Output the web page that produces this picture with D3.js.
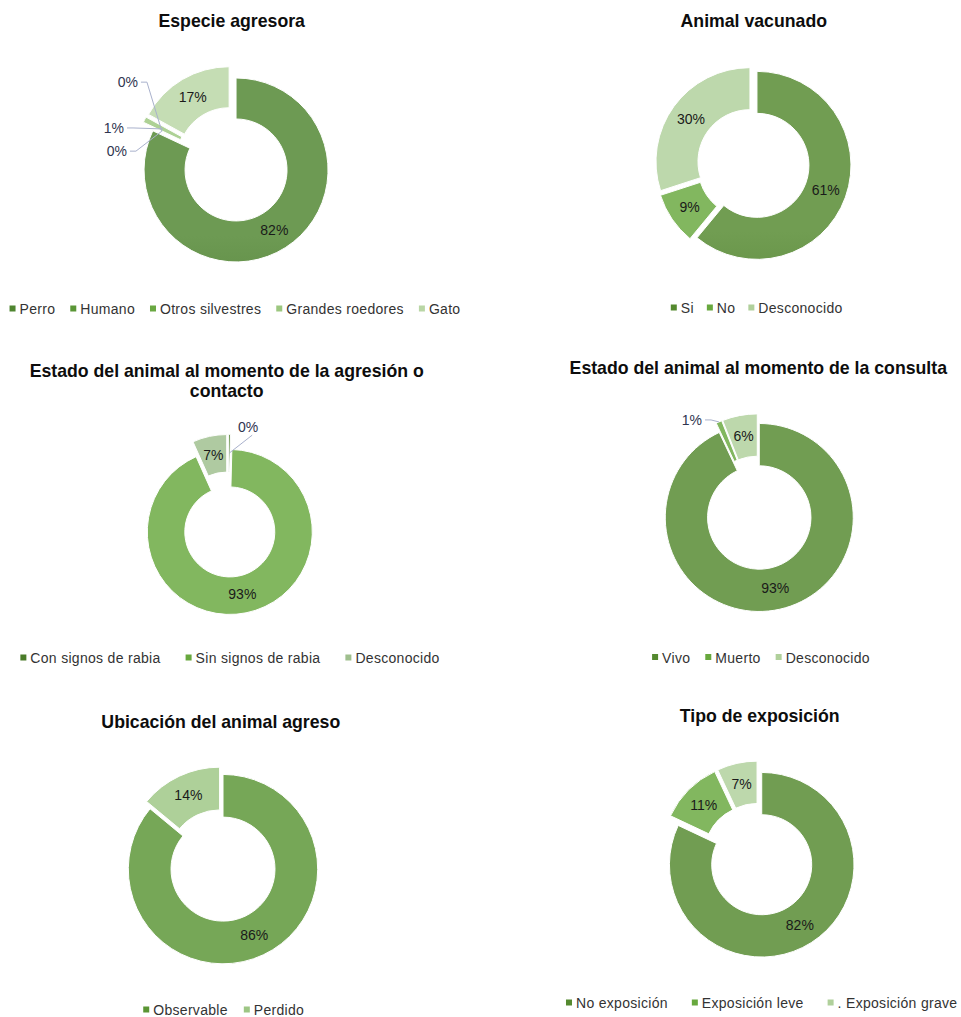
<!DOCTYPE html>
<html><head><meta charset="utf-8">
<script src="https://cdn.jsdelivr.net/npm/d3@7"></script>
<style>
body{margin:0;background:#fff}
svg{display:block;font-family:"Liberation Sans",Arial,sans-serif}
</style>
</head><body>
<svg id="c" width="961" height="1017"></svg>
<script>
// ---------------- DATA ----------------
const especieTitle = ["Especie agresora"];
const especieCats = ["Perro", "Humano", "Otros silvestres", "Grandes roedores", "Gato"];
const especieVals = [82, 0, 0, 1, 17];

const vacunadoTitle = ["Animal vacunado"];
const vacunadoCats = ["Si", "No", "Desconocido"];
const vacunadoVals = [61, 9, 30];

const agresionTitle = ["Estado del animal al momento de la agresión o", "contacto"];
const agresionCats = ["Con signos de rabia", "Sin signos de rabia", "Desconocido"];
const agresionVals = [0.4, 92.9, 6.7];

const consultaTitle = ["Estado del animal al momento de la consulta"];
const consultaCats = ["Vivo", "Muerto", "Desconocido"];
const consultaVals = [93, 1, 6];

const ubicacionTitle = ["Ubicación del animal agreso"];
const ubicacionCats = ["Observable", "Perdido"];
const ubicacionVals = [86, 14];

const exposicionTitle = ["Tipo de exposición"];
const exposicionCats = ["No exposición", "Exposición leve", ". Exposición grave"];
const exposicionVals = [82, 11, 7];

// ---------------- LAYOUT / STYLE ----------------
const charts = [
  {title: especieTitle, cats: especieCats, vals: especieVals,
   colors: ["#4f8530", "#5a9636", "#6aa842", "#9cc77f", "#b9d6a5"],
   cx: 232.5, cy: 164.4, R: 92, r: 51, e: 6.6,
   tx: 231.7, ty: [27], lx: 235, ly: 314, gap: 15,
   outside: {1: {nudge: [-45, 20], anchor: "mid"}, 2: {nudge: [-34, -49], anchor: "mid"}, 3: {nudge: [-49, -1], anchor: "mid"}}},
  {title: vacunadoTitle, cats: vacunadoCats, vals: vacunadoVals,
   colors: ["#54892f", "#68a83e", "#b0d09b"],
   cx: 753.2, cy: 164, R: 94, r: 52, e: 4,
   tx: 753.8, ty: [26.7], lx: 756.7, ly: 313, gap: 13, outside: {}},
  {title: agresionTitle, cats: agresionCats, vals: agresionVals,
   colors: ["#4a7b29", "#68a83e", "#9fbf8e"],
   cx: 228.3, cy: 524.5, R: 82.5, r: 45, e: 7.6,
   tx: 226.7, ty: [376.7, 396.7], lx: 230, ly: 663, gap: 25,
   outside: {0: {nudge: [19, -26], anchor: "mid"}}},
  {title: consultaTitle, cats: consultaCats, vals: consultaVals,
   colors: ["#54892f", "#68a83e", "#b0d09b"],
   cx: 758.2, cy: 512.7, R: 94, r: 51.7, e: 4.9,
   tx: 758.3, ty: [374.3], lx: 761, ly: 662.5, gap: 15,
   outside: {1: {nudge: [-27, -2], anchor: "outer"}}},
  {title: ubicacionTitle, cats: ubicacionCats, vals: ubicacionVals,
   colors: ["#5a9534", "#9dc684"],
   cx: 221.3, cy: 865.5, R: 94.7, r: 52, e: 4,
   tx: 220.8, ty: [728.3], lx: 223.7, ly: 1015, gap: 16, outside: {}},
  {title: exposicionTitle, cats: exposicionCats, vals: exposicionVals,
   colors: ["#54892f", "#68a83e", "#b0d09b"],
   cx: 758.4, cy: 859.5, R: 92.3, r: 50, e: 6.2,
   tx: 759.7, ty: [721.7], lx: 761.7, ly: 1008, gap: 24, outside: {}}
];

const svg = d3.select("#c");
svg.append("rect").attr("width", 961).attr("height", 1017).attr("fill", "#fff");
const defs = svg.append("defs");

charts.forEach((c, ci) => {
  const g = svg.append("g");
  const total = d3.sum(c.vals);
  const pie = d3.pie().sort(null).value(d => d).startAngle(0).endAngle(2 * Math.PI);
  const arcs = pie(c.vals);
  const arc = d3.arc().innerRadius(c.r).outerRadius(c.R);

  // gradients (lighter at top, darker at bottom)
  c.colors.forEach((col, i) => {
    const lg = defs.append("linearGradient").attr("id", `g${ci}_${i}`)
      .attr("gradientUnits", "userSpaceOnUse")
      .attr("x1", c.cx).attr("x2", c.cx)
      .attr("y1", c.cy - c.R - c.e).attr("y2", c.cy + c.R + c.e);
    lg.append("stop").attr("offset", "0%").attr("stop-color", d3.interpolateRgb(col, "#ffffff")(0.17));
    lg.append("stop").attr("offset", "100%").attr("stop-color", d3.interpolateRgb(col, "#000000")(0.14));
  });

  const mid = a => (a.startAngle + a.endAngle) / 2;
  const off = a => [Math.sin(mid(a)) * c.e, -Math.cos(mid(a)) * c.e];
  const polar = (ang, rad) => [c.cx + Math.sin(ang) * rad, c.cy - Math.cos(ang) * rad];

  // slices
  g.selectAll("path.s").data(arcs).enter().append("path")
    .attr("class", "s")
    .attr("d", arc)
    .attr("transform", a => { const o = off(a); return `translate(${c.cx + o[0]},${c.cy + o[1]})`; })
    .attr("fill", (a, i) => `url(#g${ci}_${i})`)
    .attr("stroke", "#ffffff").attr("stroke-width", 1);

  // labels
  arcs.forEach((a, i) => {
    const pct = Math.round(a.value / total * 100) + "%";
    const ang = mid(a);
    const midR = (c.R + c.r) / 2 + c.e;
    const o = c.outside[i];
    if (!o) {
      const p = polar(ang, midR);
      g.append("text").attr("x", p[0]).attr("y", p[1]).attr("dy", "0.35em")
        .attr("text-anchor", "middle").attr("font-size", 14).attr("fill", "#1a1a1a").text(pct);
    } else {
      const anc = o.anchor === "outer" ? polar(ang, c.R + c.e) : polar(ang, midR);
      const lx = anc[0] + o.nudge[0], ly = anc[1] + o.nudge[1];
      const t = g.append("text").attr("x", lx).attr("y", ly).attr("dy", "0.35em")
        .attr("text-anchor", "middle").attr("font-size", 14).attr("fill", "#2f3550").text(pct);
      const w = t.node().getComputedTextLength();
      const dx = anc[0] - lx, dy = anc[1] - ly;
      let pts;
      if (Math.abs(dx) > 25 || Math.abs(dx) > Math.abs(dy)) {
        const s = Math.sign(dx) || 1;
        const sx = lx + s * (w / 2 + 3);
        pts = [[sx, ly], [sx + s * 6, ly], anc];
      } else {
        const s = Math.sign(dy) || 1;
        pts = [[lx + 4, ly + s * 8], anc];
      }
      g.append("path").attr("d", d3.line()(pts)).attr("fill", "none")
        .attr("stroke", "#a9b1cc").attr("stroke-width", 1);
    }
  });

  // title
  c.title.forEach((line, li) => {
    g.append("text").attr("x", c.tx).attr("y", c.ty[li]).attr("text-anchor", "middle")
      .attr("font-size", 17.7).attr("font-weight", "bold").attr("fill", "#0d0d0d").text(line);
  });

  // legend
  const lg = g.append("g");
  const items = c.cats.map((cat, i) => {
    const it = lg.append("g");
    it.append("rect").attr("width", 6).attr("height", 6).attr("y", c.ly - 8.5).attr("fill", c.colors[i]);
    const tx = it.append("text").attr("x", 10).attr("y", c.ly).attr("font-size", 14)
      .attr("letter-spacing", 0.3).attr("fill", "#333333").text(cat);
    return {it, w: 10 + tx.node().getComputedTextLength()};
  });
  const totalW = d3.sum(items, d => d.w) + c.gap * (items.length - 1);
  let x = c.lx - totalW / 2;
  items.forEach(d => { d.it.attr("transform", `translate(${x},0)`); x += d.w + c.gap; });
});
</script>
</body></html>
